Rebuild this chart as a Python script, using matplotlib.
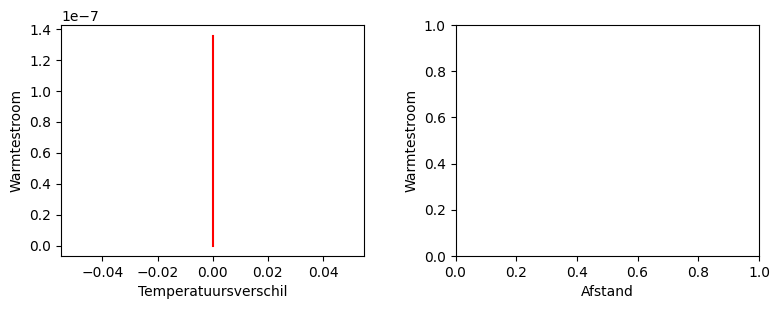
import matplotlib
matplotlib.use("Agg")
import matplotlib.pyplot as plt

# data
temperatuursverschil = [0.0, 0.0]
warmtestroom = [0.0, 1.36e-7]

fig, (ax1, ax2) = plt.subplots(1, 2, figsize=(7.79, 3.09), dpi=100)
fig.subplots_adjust(left=0.0783, right=0.9743, bottom=0.1715, top=0.919, wspace=0.30)

ax1.plot(temperatuursverschil, warmtestroom, color="red")
ax1.set_xlabel("Temperatuursverschil")
ax1.set_ylabel("Warmtestroom")

ax2.set_xlabel("Afstand")
ax2.set_ylabel("Warmtestroom")

fig.savefig("out.png", dpi=100)
